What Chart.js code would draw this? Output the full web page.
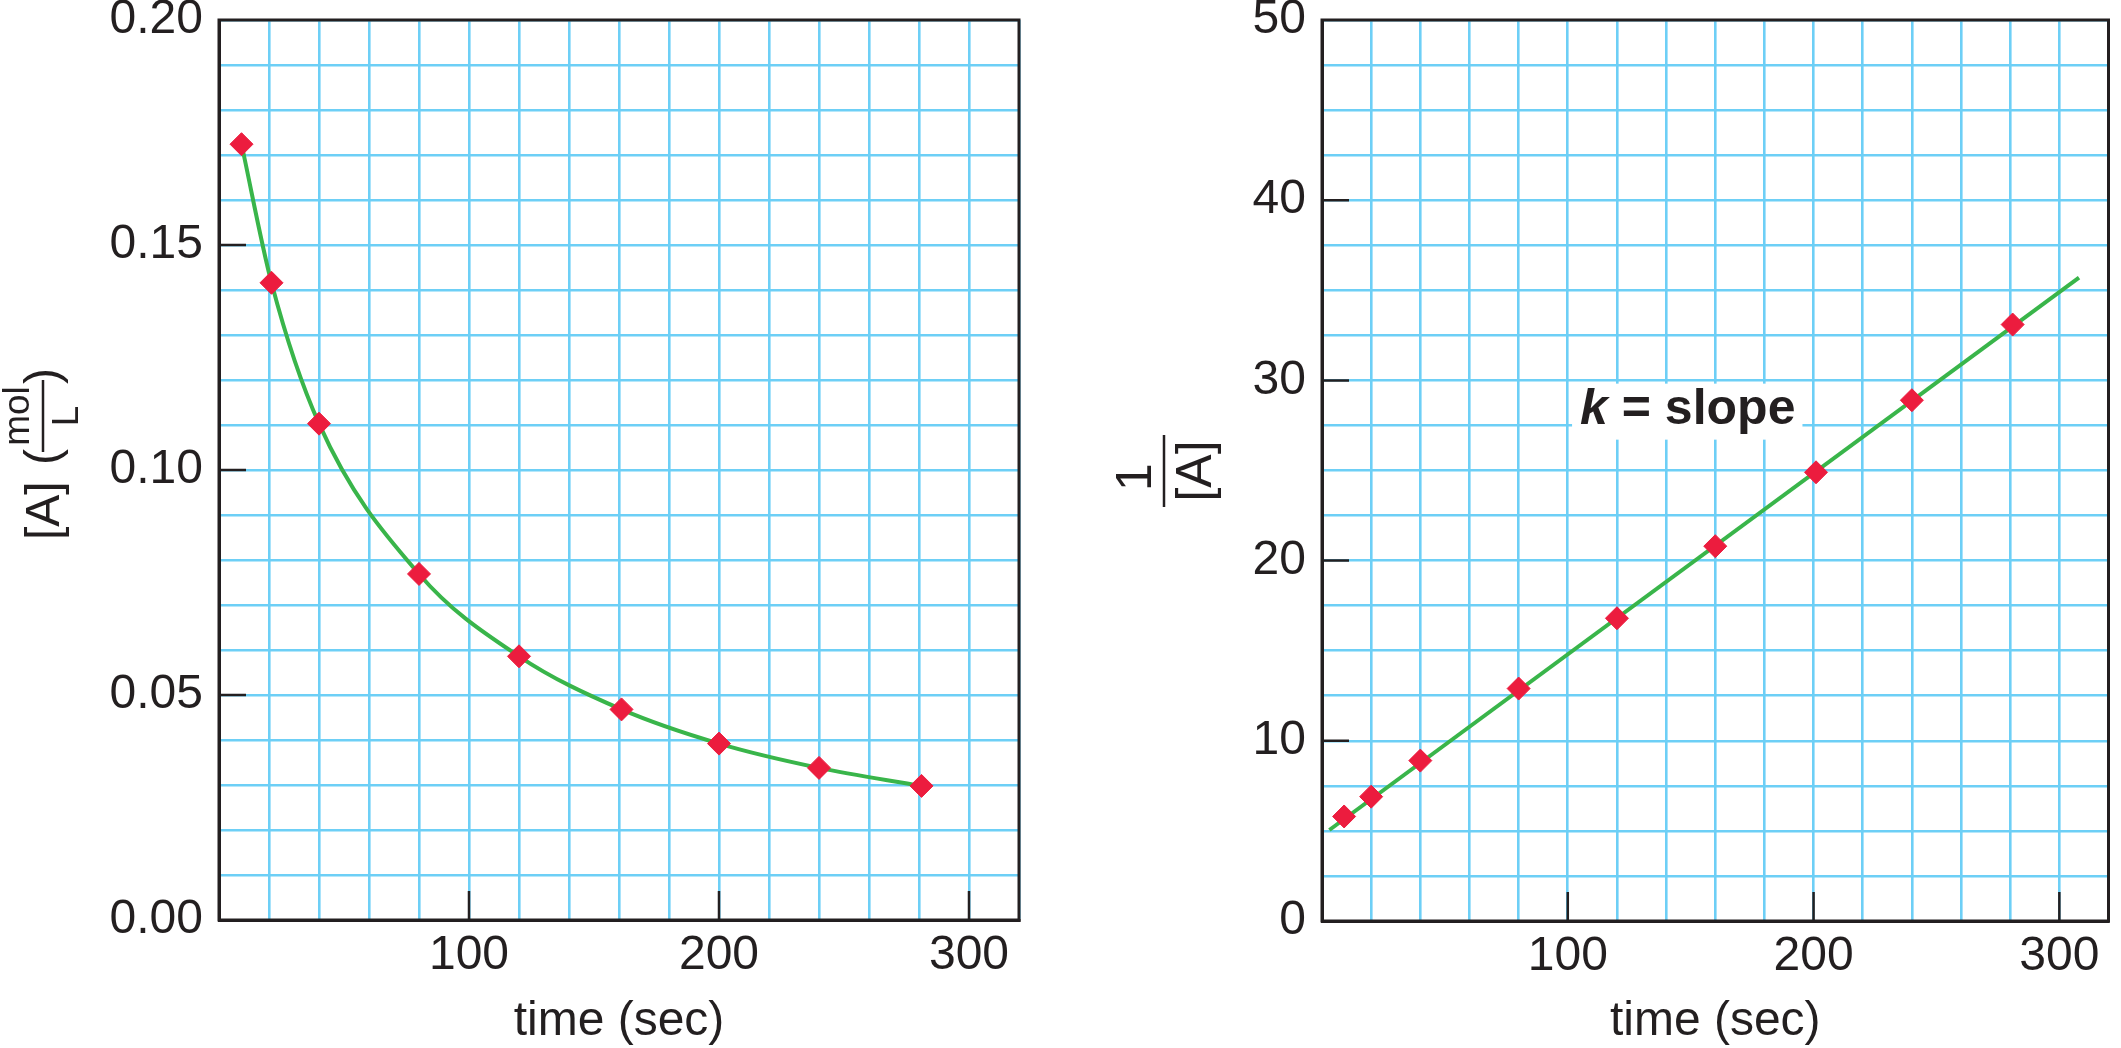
<!DOCTYPE html>
<html>
<head>
<meta charset="utf-8">
<script src="https://cdn.jsdelivr.net/npm/chart.js@4.4.1/dist/chart.umd.min.js"></script>
<style>
  html, body { margin: 0; padding: 0; background: #fff; }
  body { width: 2121px; height: 1048px; position: relative; overflow: hidden; }
  canvas { position: absolute; top: 0; }
  #left { left: 0; }
  #right { left: 1060px; }
</style>
</head>
<body>
<canvas id="left" width="1060" height="1048"></canvas>
<canvas id="right" width="1061" height="1048"></canvas>
<script>
// left panel: [A] against time
const timeA = [9, 21, 40, 80, 120, 161, 200, 240, 281];
const concA = [0.1724, 0.1416, 0.1103, 0.0769, 0.0586, 0.0468, 0.0392, 0.0338, 0.0298];

// right panel: 1/[A] against time, plus the straight fit
const timeInv = [9, 20, 40, 80, 120, 160, 201, 240, 281];
const invA = [5.8, 6.9, 8.9, 12.9, 16.8, 20.8, 24.9, 28.9, 33.1];
const fitTime = [3, 308];
const fitInv = [5.05, 35.7];

// labelled ticks
const xTickLabels = [100, 200, 300];
const leftTickLabels = [0.00, 0.05, 0.10, 0.15, 0.20];
const rightTickLabels = [0, 10, 20, 30, 40, 50];

const ink = '#231f20';
const blue = '#6dcff6';
const green = '#39b54a';
const red = '#ec1c3e';
const family = '"Liberation Sans", Arial, Helvetica, sans-serif';

Chart.defaults.font.family = family;
Chart.defaults.color = ink;

const has = (list, v) => list.some(t => Math.abs(t - v) < 1e-6);
const pts = (xs, ys) => xs.map((x, i) => ({x: x, y: ys[i]}));

function leftTitle(ctx) {
    ctx.save();
    ctx.translate(43, 454);
    ctx.rotate(-Math.PI / 2);
    ctx.fillStyle = ink;
    ctx.strokeStyle = ink;
    ctx.textBaseline = 'alphabetic';
    ctx.font = `48px ${family}`;
    ctx.textAlign = 'left';
    ctx.fillText('[A]', -86, 16);
    ctx.fillText('(', -11, 15);
    ctx.textAlign = 'right';
    ctx.fillText(')', 86, 15);
    ctx.font = `37px ${family}`;
    ctx.textAlign = 'center';
    ctx.fillText('mol', 38, -14);
    ctx.fillText('L', 38, 35);
    ctx.lineWidth = 2.5;
    ctx.beginPath();
    ctx.moveTo(2, 0);
    ctx.lineTo(74, 0);
    ctx.stroke();
    ctx.restore();
}

function rightTitle(ctx) {
    ctx.save();
    ctx.translate(104, 471);
    ctx.rotate(-Math.PI / 2);
    ctx.fillStyle = ink;
    ctx.strokeStyle = ink;
    ctx.textBaseline = 'alphabetic';
    ctx.textAlign = 'center';
    ctx.font = `50px ${family}`;
    ctx.fillText('1', -6, -13);
    ctx.fillText('[A]', 0, 47);
    ctx.lineWidth = 2.5;
    ctx.beginPath();
    ctx.moveTo(-36, 0);
    ctx.lineTo(36, 0);
    ctx.stroke();
    ctx.restore();
}

const paper = {
    id: 'paper',
    beforeDatasetsDraw(chart, args, opts) {
        const {ctx, chartArea: a, scales: {x, y}} = chart;
        ctx.save();
        ctx.strokeStyle = ink;
        ctx.lineWidth = 3;
        ctx.strokeRect(a.left, a.top, a.right - a.left, a.bottom - a.top);

        // short black ticks inside the frame
        ctx.lineWidth = 2.5;
        ctx.beginPath();
        for (const v of xTickLabels) {
            const px = x.getPixelForValue(v);
            ctx.moveTo(px, a.bottom);
            ctx.lineTo(px, a.bottom - 29);
        }
        for (const v of opts.yMarks) {
            const py = y.getPixelForValue(v);
            ctx.moveTo(a.left, py);
            ctx.lineTo(a.left + 27, py);
        }
        ctx.stroke();

        if (opts.side === 'right') {
            // k = slope label on a white patch
            const x0 = x.getPixelForValue(105);
            const yb = y.getPixelForValue(27.6);
            ctx.font = `italic bold 50px ${family}`;
            const wk = ctx.measureText('k').width;
            ctx.font = `bold 50px ${family}`;
            const wr = ctx.measureText(' = slope').width;
            ctx.fillStyle = '#fff';
            ctx.fillRect(x0 - 8, yb - 40, wk + wr + 15, 56);
            ctx.fillStyle = ink;
            ctx.textAlign = 'left';
            ctx.textBaseline = 'alphabetic';
            ctx.font = `italic bold 50px ${family}`;
            ctx.fillText('k', x0, yb);
            ctx.font = `bold 50px ${family}`;
            ctx.fillText(' = slope', x0 + wk, yb);
        }
        ctx.restore();
    },
    afterDraw(chart, args, opts) {
        const {ctx, chartArea: a} = chart;
        ctx.save();
        ctx.fillStyle = ink;
        ctx.textAlign = 'center';
        ctx.textBaseline = 'alphabetic';
        ctx.font = `48px ${family}`;
        ctx.fillText('time (sec)', (a.left + a.right) / 2, 1035);
        ctx.restore();
        if (opts.side === 'left') leftTitle(ctx);
        else rightTitle(ctx);
    }
};

function panel(id, side, points, curve, yMax, yStep, yLabels, fmt, yWidth, xHeight, padRight, curved) {
    return new Chart(document.getElementById(id), {
        type: 'scatter',
        data: {
            datasets: [
                {
                    data: points,
                    showLine: false,
                    pointStyle: 'rectRot',
                    pointRadius: 11.5,
                    pointHoverRadius: 11.5,
                    pointBackgroundColor: red,
                    pointBorderColor: red,
                    pointBorderWidth: 1,
                    order: 0
                },
                {
                    data: curve,
                    showLine: true,
                    fill: false,
                    pointRadius: 0,
                    borderColor: green,
                    borderWidth: 4,
                    cubicInterpolationMode: curved ? 'monotone' : 'default',
                    order: 1
                }
            ]
        },
        options: {
            responsive: false,
            animation: false,
            devicePixelRatio: 1,
            layout: { padding: { left: 0, top: 20, right: padRight, bottom: 0 } },
            plugins: {
                legend: { display: false },
                tooltip: { enabled: false },
                paper: { side: side, yMarks: yLabels.slice(1, -1) }
            },
            scales: {
                x: {
                    type: 'linear',
                    min: 0,
                    max: 320,
                    afterFit(s) { s.height = xHeight; s.paddingLeft = 0; s.paddingRight = 0; },
                    grid: { color: blue, lineWidth: 2.6, drawTicks: false },
                    border: { display: true, color: ink, width: 3 },
                    ticks: {
                        stepSize: 20,
                        autoSkip: false,
                        maxRotation: 0,
                        minRotation: 0,
                        padding: 7,
                        color: ink,
                        font: { size: 48 },
                        callback: v => has(xTickLabels, v) ? String(v) : ''
                    }
                },
                y: {
                    type: 'linear',
                    min: 0,
                    max: yMax,
                    afterFit(s) { s.width = yWidth; s.paddingTop = 0; s.paddingBottom = 0; },
                    grid: { color: blue, lineWidth: 2.6, drawTicks: false },
                    border: { display: true, color: ink, width: 3 },
                    ticks: {
                        stepSize: yStep,
                        autoSkip: false,
                        padding: 16,
                        color: ink,
                        font: { size: 48 },
                        callback: v => has(yLabels, v) ? fmt(v) : ''
                    }
                }
            }
        },
        plugins: [paper]
    });
}

panel('left', 'left', pts(timeA, concA), pts(timeA, concA),
    0.20, 0.01, leftTickLabels, v => v.toFixed(2), 219, 128, 41, true);

panel('right', 'right', pts(timeInv, invA), pts(fitTime, fitInv),
    50, 2.5, rightTickLabels, v => String(v), 262, 127, 1.5, false);
</script>
</body>
</html>
